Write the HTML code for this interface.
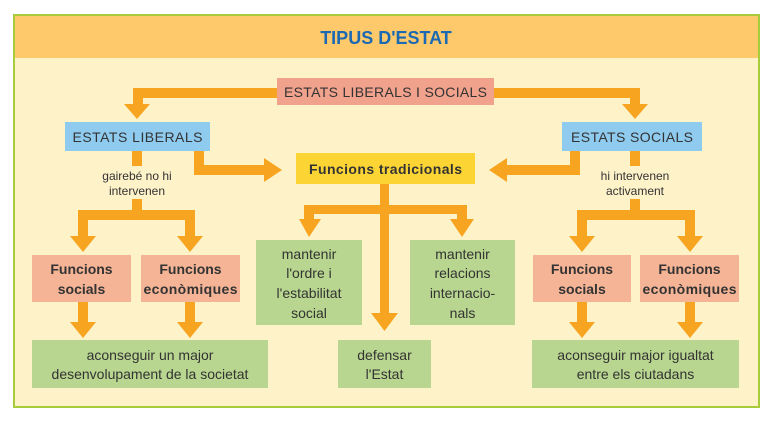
<!DOCTYPE html>
<html><head><meta charset="utf-8"><style>
html,body{margin:0;padding:0;background:#fff}
svg{display:block}
text{font-family:"Liberation Sans",sans-serif;fill:#333}
.b{font-weight:bold}
</style></head><body>
<svg width="776" height="422" viewBox="0 0 776 422" xmlns="http://www.w3.org/2000/svg">
<rect x="14" y="15" width="745" height="392" fill="#fef2c9" stroke="#a9cc3c" stroke-width="2"/>
<rect x="15" y="16" width="743" height="42" fill="#fdc96b"/>
<text x="386" y="44" text-anchor="middle" class="b" font-size="18" style="fill:#1b68b3">TIPUS D'ESTAT</text>

<g fill="#f7a421">
<!-- top arrows -->
<rect x="133" y="88" width="145" height="10"/>
<rect x="133" y="88" width="10" height="18"/>
<polygon points="124,104 150,104 137,119"/>
<rect x="493" y="88" width="147" height="10"/>
<rect x="630" y="88" width="10" height="18"/>
<polygon points="622,104 648,104 635,119"/>
<!-- liberals to tradicionals -->
<rect x="194" y="150" width="10" height="25"/>
<rect x="194" y="165" width="72" height="10"/>
<polygon points="264,158 264,182 282,170"/>
<!-- socials to tradicionals -->
<rect x="570" y="150" width="10" height="25"/>
<rect x="505" y="165" width="75" height="10"/>
<polygon points="507,158 507,182 489,170"/>
<!-- left tree -->
<rect x="132" y="150" width="10" height="16"/>
<rect x="132" y="199" width="10" height="14"/>
<rect x="78" y="210" width="117" height="10"/>
<rect x="78" y="210" width="10" height="28"/>
<rect x="185" y="210" width="10" height="28"/>
<polygon points="70,236 96,236 83,252"/>
<polygon points="177,236 203,236 190,252"/>
<rect x="78" y="302" width="10" height="22"/>
<rect x="185" y="302" width="10" height="22"/>
<polygon points="70,322 96,322 83,338"/>
<polygon points="177,322 203,322 190,338"/>
<!-- middle -->
<rect x="380" y="184" width="9" height="132"/>
<polygon points="371,313 398,313 384.5,331"/>
<rect x="304" y="205" width="162" height="9"/>
<rect x="304" y="205" width="10" height="16"/>
<rect x="457" y="205" width="10" height="16"/>
<polygon points="299,219 321,219 309,237"/>
<polygon points="450,219 474,219 462,237"/>
<!-- right tree -->
<rect x="630" y="150" width="10" height="16"/>
<rect x="630" y="199" width="10" height="14"/>
<rect x="577" y="210" width="118" height="10"/>
<rect x="577" y="210" width="10" height="28"/>
<rect x="685" y="210" width="10" height="28"/>
<polygon points="569,236 595,236 582,252"/>
<polygon points="677,236 703,236 690,252"/>
<rect x="577" y="302" width="10" height="22"/>
<rect x="685" y="302" width="10" height="22"/>
<polygon points="569,322 595,322 582,338"/>
<polygon points="677,322 703,322 690,338"/>
</g>

<!-- boxes -->
<rect x="277" y="78" width="217" height="27" fill="#f1a28c"/>
<text x="385.5" y="97" text-anchor="middle" font-size="14" textLength="203">ESTATS LIBERALS I SOCIALS</text>
<rect x="65" y="122" width="145" height="29" fill="#8fcbef"/>
<text x="137.5" y="142" text-anchor="middle" font-size="14" textLength="130">ESTATS LIBERALS</text>
<rect x="562" y="122" width="140" height="29" fill="#8fcbef"/>
<text x="632" y="142" text-anchor="middle" font-size="14" textLength="122">ESTATS SOCIALS</text>
<rect x="296" y="153" width="179" height="31" fill="#fcd535"/>
<text x="385.5" y="174" text-anchor="middle" class="b" font-size="14" textLength="153">Funcions tradicionals</text>

<text x="137" y="180" text-anchor="middle" font-size="12">gairebé no hi</text>
<text x="137" y="195" text-anchor="middle" font-size="12">intervenen</text>
<text x="635" y="180" text-anchor="middle" font-size="12">hi intervenen</text>
<text x="635" y="195" text-anchor="middle" font-size="12">activament</text>

<g fill="#f5b496">
<rect x="32" y="255" width="99" height="47"/>
<rect x="141" y="255" width="99" height="47"/>
<rect x="533" y="255" width="98" height="47"/>
<rect x="640" y="255" width="99" height="47"/>
</g>
<g class="b" font-size="14" text-anchor="middle">
<text x="81.5" y="274">Funcions</text><text x="81.5" y="294">socials</text>
<text x="190.5" y="274">Funcions</text><text x="190.5" y="294" textLength="94">econòmiques</text>
<text x="582" y="274">Funcions</text><text x="582" y="294">socials</text>
<text x="689.5" y="274">Funcions</text><text x="689.5" y="294" textLength="94">econòmiques</text>
</g>

<g fill="#b8d68f">
<rect x="32" y="340" width="236" height="48"/>
<rect x="256" y="240" width="106" height="85"/>
<rect x="410" y="240" width="105" height="85"/>
<rect x="338" y="340" width="93" height="48"/>
<rect x="532" y="340" width="207" height="48"/>
</g>
<g font-size="14" text-anchor="middle">
<text x="150" y="360">aconseguir un major</text>
<text x="150" y="379">desenvolupament de la societat</text>
<text x="309" y="259">mantenir</text><text x="309" y="278">l'ordre i</text>
<text x="309" y="298">l'estabilitat</text><text x="309" y="318">social</text>
<text x="462.5" y="259">mantenir</text><text x="462.5" y="278">relacions</text>
<text x="462.5" y="298">internacio-</text><text x="462.5" y="318">nals</text>
<text x="384.5" y="360">defensar</text><text x="384.5" y="379">l'Estat</text>
<text x="635.5" y="360">aconseguir major igualtat</text>
<text x="635.5" y="379">entre els ciutadans</text>
</g>
</svg>
</body></html>
